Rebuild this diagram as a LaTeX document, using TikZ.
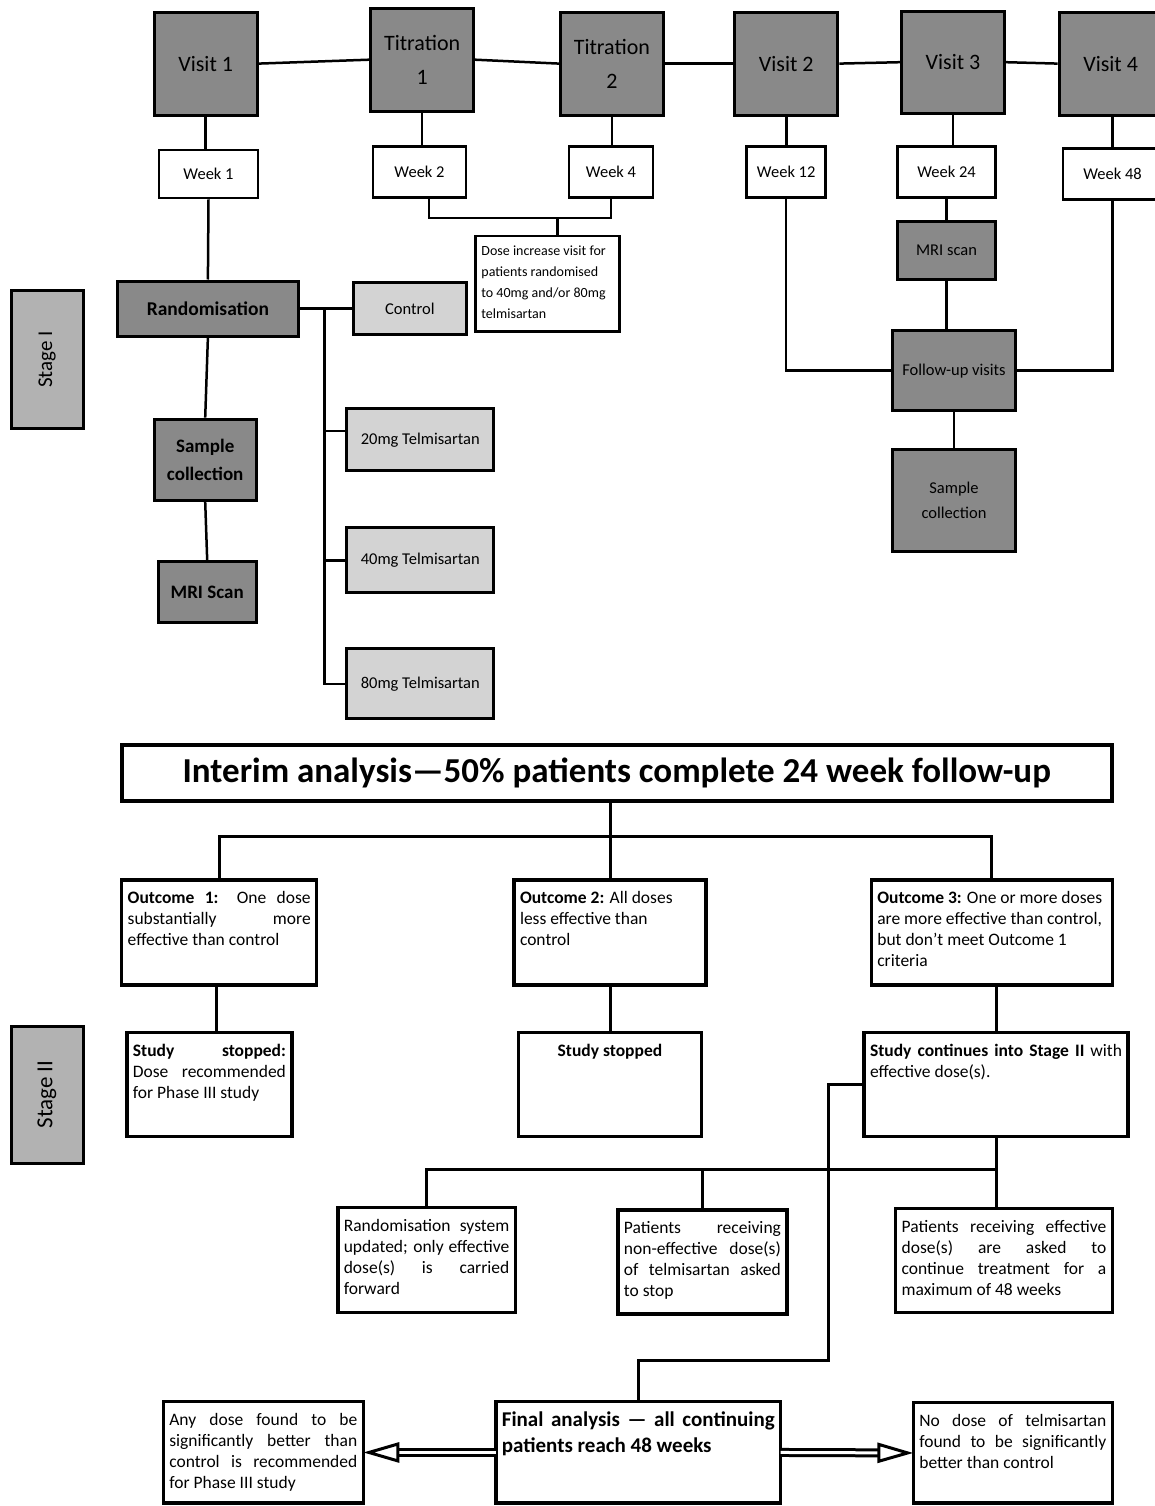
\documentclass[tikz,border=0pt]{standalone}
\usepackage{fontspec}
\setmainfont{Carlito}
\usetikzlibrary{positioning, arrows.meta}

\definecolor{boxdark}{RGB}{137,137,137}
\definecolor{boxstage}{RGB}{178,178,178}
\definecolor{boxlight}{RGB}{211,211,211}

% fixed-size text block, text at the top
\newcommand{\boxtext}[4][4pt]{\begin{minipage}[b][#3][t]{#2}\vspace*{#1}\strut#4\end{minipage}}

\begin{document}
\begin{tikzpicture}[
        x=1pt, y=-1pt,
        visit/.style={rectangle, draw=black, line width=3pt, fill=boxdark, minimum width=103pt, minimum height=103pt, inner sep=0pt, align=center, font=\fontsize{22}{34}\selectfont},
        week/.style={rectangle, draw=black, line width=2.7pt, fill=white, minimum height=51pt, inner sep=0pt, font=\fontsize{16.5}{20}\selectfont},
        darkbox/.style={rectangle, draw=black, line width=3pt, fill=boxdark, inner sep=0pt, align=center},
        lightbox/.style={rectangle, draw=black, line width=3pt, fill=boxlight, inner sep=0pt, font=\fontsize{16.5}{20}\selectfont},
        stagebox/.style={rectangle, draw=black, line width=3pt, fill=boxstage, minimum width=138pt, minimum height=72pt, inner sep=0pt, rotate=90},
        textbox/.style={rectangle, draw=black, line width=3.5pt, fill=white, anchor=north west, outer sep=0pt, inner xsep=6pt, inner ysep=5pt, font=\fontsize{17.5}{21}\selectfont},
        conn/.style={line width=2.5pt},
        sconn/.style={line width=3pt},
        dblarrow/.style={line width=3pt, double, double distance=3pt, -{Triangle[open, length=36pt, width=20pt]}}
    ]
    \useasboundingbox (0,0) rectangle (1155,1506);

    % ===== Stage I: visits =====
    \node (v1) [visit] at (205.7,63.6) {Visit 1};
    \node (t1) [visit] at (422.1,59.7) {Titration\\1};
    \node (t2) [visit] at (611.9,63.6) {Titration\\2};
    \node (v2) [visit] at (786.3,63.6) {Visit 2};
    \node (v3) [visit, minimum height=102pt] at (953,62.2) {Visit 3};
    \node (v4) [visit] at (1110.6,63.6) {Visit 4};

    \node (w1) [week, minimum width=99pt, minimum height=48pt] at (208.5,174) {Week 1};
    \node (w2) [week, minimum width=93pt] at (419.5,172.2) {Week 2};
    \node (w4) [week, minimum width=84pt] at (611,172.2) {Week 4};
    \node (w12) [week, minimum width=79pt] at (786.2,172.2) {Week 12};
    \node (w24) [week, minimum width=98pt] at (946.5,172.2) {Week 24};
    \node (w48) [week, minimum width=99pt] at (1112.5,173.8) {Week 48};

    \node (dose) [textbox, line width=2.7pt, font=\fontsize{14}{20.7}\selectfont] at (475.4,236)
        {\boxtext[0.5pt]{131.8pt}{85.7pt}{Dose increase visit for\\ patients randomised\\ to 40mg and/or 80mg\\ telmisartan}};

    % ===== Stage I: randomisation =====
    \node (stage1) [stagebox, font=\fontsize{21}{25}\selectfont] at (47,359.3) {Stage I};
    \node (rand) [darkbox, minimum width=180.6pt, minimum height=55pt, font=\fontsize{19.5}{23}\selectfont\bfseries] at (207.9,308.5) {Randomisation};
    \node (samp1) [darkbox, minimum width=102pt, minimum height=81pt, font=\fontsize{19}{28}\selectfont\bfseries] at (205.2,459.7) {Sample\\collection};
    \node (mri1) [darkbox, minimum width=98pt, minimum height=61pt, font=\fontsize{19}{23}\selectfont\bfseries] at (207.2,592.4) {MRI Scan};

    \node (ctrl) [lightbox, minimum width=113pt, minimum height=52pt] at (409.8,308.5) {Control};
    \node (d20) [lightbox, minimum width=147pt, minimum height=62pt] at (420.3,439.8) {20mg Telmisartan};
    \node (d40) [lightbox, minimum width=147pt, minimum height=65pt, below=54pt of d20] {40mg Telmisartan};
    \node (d80) [lightbox, minimum width=147pt, minimum height=70pt, below=53pt of d40] {80mg Telmisartan};

    % ===== Stage I: follow-up =====
    \node (mri2) [darkbox, minimum width=98pt, minimum height=58pt, font=\fontsize{16.5}{20}\selectfont] at (946.5,250.2) {MRI scan};
    \node (fu) [darkbox, minimum width=123pt, minimum height=80pt, font=\fontsize{16.5}{20}\selectfont] at (954,370.7) {Follow-up visits};
    \node (samp2) [darkbox, minimum width=123pt, minimum height=102pt, font=\fontsize{16.5}{25}\selectfont] at (954,500.2) {Sample\\collection};

    % ===== Stage I: connectors =====
    \draw [conn] (v1.east) -- (t1.west);
    \draw [conn] (t1.east) -- (t2.west);
    \draw [conn] (t2.east) -- (v2.west);
    \draw [conn] (v2.east) -- (v3.west);
    \draw [conn] (v3.east) -- (v4.west);

    \draw [conn] (v1.south) -- (v1.south |- w1.north);
    \draw [conn] (t1.south) -- (t1.south |- w2.north);
    \draw [conn] (t2.south) -- (t2.south |- w4.north);
    \draw [conn] (v2.south) -- (v2.south |- w12.north);
    \draw [conn] (v3.south) -- (v3.south |- w24.north);
    \draw [conn] (w48.north) -- (w48.north |- v4.south);

    \draw [conn] ([xshift=9.5pt]w2.south) -- ++(0,19) coordinate (wjoin) -| (w4.south);
    \draw [conn] ([xshift=10pt]dose.north) -- ([xshift=10pt]dose.north |- wjoin);

    \draw [conn] (w1.south) -- (rand.north);
    \draw [conn] (rand.south) -- (samp1.north);
    \draw [conn] (samp1.south) -- (mri1.north);
    \draw [conn] (rand.east) -- (ctrl.west);
    \coordinate (split) at (324.5,308.5);
    \draw [conn] (split) |- (d80.west);
    \draw [conn] (split |- d20.west) ++(0,-9) -- ([yshift=9pt]d20.west);
    \draw [conn] (split |- d40.west) -- (d40.west);

    \draw [conn] (w24.south) -- (mri2.north);
    \draw [conn] (mri2.south) -- (mri2.south |- fu.north);
    \draw [conn] (w12.south) |- (fu.west);
    \draw [conn] (w48.south) |- (fu.east);
    \draw [conn] (fu.south) -- (samp2.north);

    % ===== Stage II =====
    \node (stage2) [stagebox, minimum width=137pt, font=\fontsize{23}{27}\selectfont] at (47,1094.5) {Stage II};
    \node (interim) [rectangle, draw=black, line width=3.5pt, fill=white, minimum width=990pt, minimum height=56pt, inner sep=0pt, font=\fontsize{35}{40}\selectfont\bfseries] at (616.75,773)
        {Interim analysis—50\% patients complete 24 week follow-up};

    \node (o1) [textbox] at (121.7,880) {\boxtext{183pt}{95pt}{\textbf{Outcome 1:} One dose\linebreak substantially more\linebreak effective than control}};
    \node (o2) [textbox] at (514,880) {\boxtext{180pt}{95pt}{\textbf{Outcome 2:} All doses\\ less effective than\\ control}};
    \node (o3) [textbox] at (871.3,880) {\boxtext{229pt}{95pt}{\textbf{Outcome 3:} One or more doses\\ are more effective than control,\\ but don’t meet Outcome 1\\ criteria}};

    \node (ss1) [textbox] at (126.9,1032.3) {\boxtext{153pt}{94pt}{\textbf{Study stopped:}\linebreak Dose recommended\linebreak for Phase III study}};
    \node (ss2) [textbox] at (518.4,1032.3) {\boxtext{171pt}{94pt}{\centering\textbf{Study stopped}\par}};
    \node (sc) [textbox] at (864,1032.3) {\boxtext{252pt}{94pt}{\textbf{Study continues into Stage II} with\linebreak effective dose(s).}};

    \node (rs) [textbox] at (337.8,1207.7) {\boxtext{165.5pt}{95pt}{Randomisation system\linebreak updated; only effective\linebreak dose(s) is carried\linebreak forward}};
    \node (ne) [textbox] at (617.9,1210) {\boxtext{157pt}{94pt}{Patients receiving\linebreak non-effective dose(s)\linebreak of telmisartan asked\linebreak to stop}};
    \node (pe) [textbox] at (895.7,1208.3) {\boxtext{204.6pt}{94pt}{Patients receiving effective\linebreak dose(s) are asked to\linebreak continue treatment for a\linebreak maximum of 48 weeks}};

    \node (ad) [textbox] at (163.3,1401.7) {\boxtext{188pt}{91.5pt}{Any dose found to be\linebreak significantly better than\linebreak control is recommended\linebreak for Phase III study}};
    \node (fa) [textbox, font=\fontsize{21}{26}\selectfont\bfseries] at (495.9,1401.7) {\boxtext[2pt]{272.7pt}{91.5pt}{Final analysis — all continuing\linebreak patients reach 48 weeks}};
    \node (nd) [textbox] at (913.3,1402.7) {\boxtext{187pt}{90.5pt}{No dose of telmisartan\linebreak found to be significantly\linebreak better than control}};

    % ===== Stage II: connectors =====
    \draw [sconn] (interim.south -| o2.north) -- ++(0,34) coordinate (isplit);
    \draw [sconn] (o1.north) -- (o1.north |- isplit) -- (o3.north |- isplit) -- (o3.north);
    \draw [sconn] (isplit) -- (o2.north);

    \draw [sconn] ([xshift=-3pt]o1.south) -- ([xshift=-3pt]o1.south |- ss1.north);
    \draw [sconn] (o2.south) -- (o2.south |- ss2.north);
    \draw [sconn] (sc.north) -- (sc.north |- o3.south);

    \draw [sconn] (sc.south) -- ++(0,33.3) coordinate (csplit);
    \draw [sconn] (rs.north) |- (csplit);
    \draw [sconn] (ne.north) -- (ne.north |- csplit);
    \draw [sconn] (csplit) -- (csplit |- pe.north);

    \draw [sconn] (sc.west) -- ++(-36,0) |- ([yshift=41pt]fa.north) -- (fa.north);

    \draw [dblarrow] (fa.west) -- (ad.east);
    \draw [dblarrow] (fa.east) -- (nd.west);

\end{tikzpicture}
\end{document}
